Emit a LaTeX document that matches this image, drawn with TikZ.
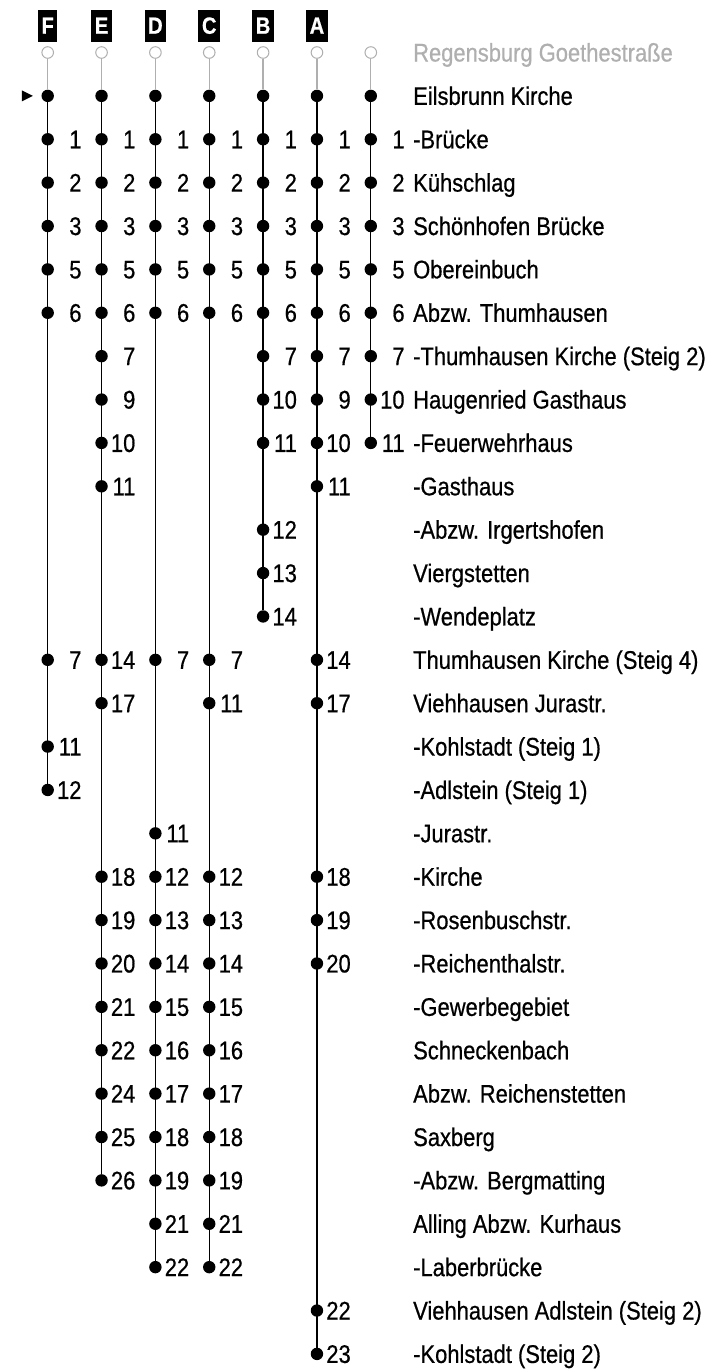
\documentclass[tikz,border=0pt]{standalone}
\usepackage{fontspec}
\setmainfont{Liberation Sans}[FakeStretch=0.86, FakeBold=0.6]
\usepackage{tikz}
\usetikzlibrary{positioning, backgrounds}
\definecolor{cMuted}{RGB}{175,175,175}
\tikzset{
	stopdot/.style  ={circle, fill=black, minimum size=12.4pt, inner sep=0pt},
	startring/.style={circle, draw=cMuted, line width=1pt, fill=white, minimum size=11.6pt, inner sep=0pt},
	numlbl/.style   ={anchor=base east, xshift=34pt, yshift=-9pt, inner sep=0pt},
	stname/.style   ={anchor=base west, yshift=-9pt, inner sep=0pt},
	linehdr/.style  ={rectangle, fill=black, text=white, font=\fontsize{23.5}{24}\selectfont\bfseries, minimum height=31.7pt, inner xsep=3.5pt, inner ysep=0pt},
	% connectors
	route/.style    ={line width=1.3pt},
	feeder/.style   ={line width=1.3pt, draw=cMuted},
}
\def\namex{6.7837}

\begin{document}
\begin{tikzpicture}[font=\fontsize{25.5}{28}\selectfont, x=53.85pt, y=-43.38pt]
	\useasboundingbox (-47.7pt,52.5pt) rectangle (669.3pt,-1316.5pt);
	% common start of all lines
	\foreach \c/\x in {F/0,E/1,D/2,C/3,B/4,A/5,G/6} {
		\node[startring] (\c0) at (\x,0) {};
		\node[stopdot] (\c1) at (\x,1) {};
		\foreach \r/\n in {2/1,3/2,4/3,5/5,6/6} {
			\node[stopdot] (\c\r) at (\x,\r) {};
			\node[numlbl] (n\c\r) at (\x,\r) {\n};
		}
	}
	% line F
	\foreach \r/\n in {14/7,16/11,17/12} {
		\node[stopdot] (F\r) at (0,\r) {};
		\node[numlbl] (nF\r) at (0,\r) {\n};
	}
	% line E
	\foreach \r/\n in {7/7,8/9,9/10,10/11,14/14,15/17,19/18,20/19,21/20,22/21,23/22,24/24,25/25,26/26} {
		\node[stopdot] (E\r) at (1,\r) {};
		\node[numlbl] (nE\r) at (1,\r) {\n};
	}
	% line D
	\foreach \r/\n in {14/7,18/11,19/12,20/13,21/14,22/15,23/16,24/17,25/18,26/19,27/21,28/22} {
		\node[stopdot] (D\r) at (2,\r) {};
		\node[numlbl] (nD\r) at (2,\r) {\n};
	}
	% line C
	\foreach \r/\n in {14/7,15/11,19/12,20/13,21/14,22/15,23/16,24/17,25/18,26/19,27/21,28/22} {
		\node[stopdot] (C\r) at (3,\r) {};
		\node[numlbl] (nC\r) at (3,\r) {\n};
	}
	% line B
	\foreach \r/\n in {7/7,8/10,9/11,11/12,12/13,13/14} {
		\node[stopdot] (B\r) at (4,\r) {};
		\node[numlbl] (nB\r) at (4,\r) {\n};
	}
	% line A
	\foreach \r/\n in {7/7,8/9,9/10,10/11,14/14,15/17,19/18,20/19,21/20,29/22,30/23} {
		\node[stopdot] (A\r) at (5,\r) {};
		\node[numlbl] (nA\r) at (5,\r) {\n};
	}
	% unlabelled line
	\foreach \r/\n in {7/7,8/10,9/11} {
		\node[stopdot] (G\r) at (6,\r) {};
		\node[numlbl] (nG\r) at (6,\r) {\n};
	}
	% line letters
	\foreach \c in {F,E,D,C,B,A}
		\node[linehdr, above=4.5pt of \c0] (h\c) {\c};
	% connectors
	\begin{scope}[on background layer]
		\foreach \c in {F,E,D,C,B,A,G}
			\draw[feeder] (\c0) -- (\c1);
		\draw[route] (F1) -- (F17);
		\draw[route] (E1) -- (E26);
		\draw[route] (D1) -- (D28);
		\draw[route] (C1) -- (C28);
		\draw[route] (B1) -- (B13);
		\draw[route] (A1) -- (A30);
		\draw[route] (G1) -- (G9);
	\end{scope}
	\fill ([xshift=-8.5pt]F1.west) -- ++(-11pt,5.5pt) -- ++(0,-11pt) -- cycle;
	% stop names
	\node[stname, text=cMuted] (s0) at (\namex,0) {Regensburg Goethestraße};
	\foreach \r/\s in {1/Eilsbrunn Kirche, 2/-Brücke, 3/Kühschlag, 4/Schönhofen Brücke, 5/Obereinbuch,
		6/Abzw. Thumhausen, 7/-Thumhausen Kirche (Steig 2), 8/Haugenried Gasthaus, 9/-Feuerwehrhaus,
		10/-Gasthaus, 11/-Abzw. Irgertshofen, 12/Viergstetten, 13/-Wendeplatz, 14/Thumhausen Kirche (Steig 4),
		15/Viehhausen Jurastr., 16/-Kohlstadt (Steig 1), 17/-Adlstein (Steig 1), 18/-Jurastr., 19/-Kirche,
		20/-Rosenbuschstr., 21/-Reichenthalstr., 22/-Gewerbegebiet, 23/Schneckenbach, 24/Abzw. Reichenstetten,
		25/Saxberg, 26/-Abzw. Bergmatting, 27/Alling Abzw. Kurhaus, 28/-Laberbrücke,
		29/Viehhausen Adlstein (Steig 2), 30/-Kohlstadt (Steig 2)}
		\node[stname] (s\r) at (\namex,\r) {\s};
\end{tikzpicture}
\end{document}
